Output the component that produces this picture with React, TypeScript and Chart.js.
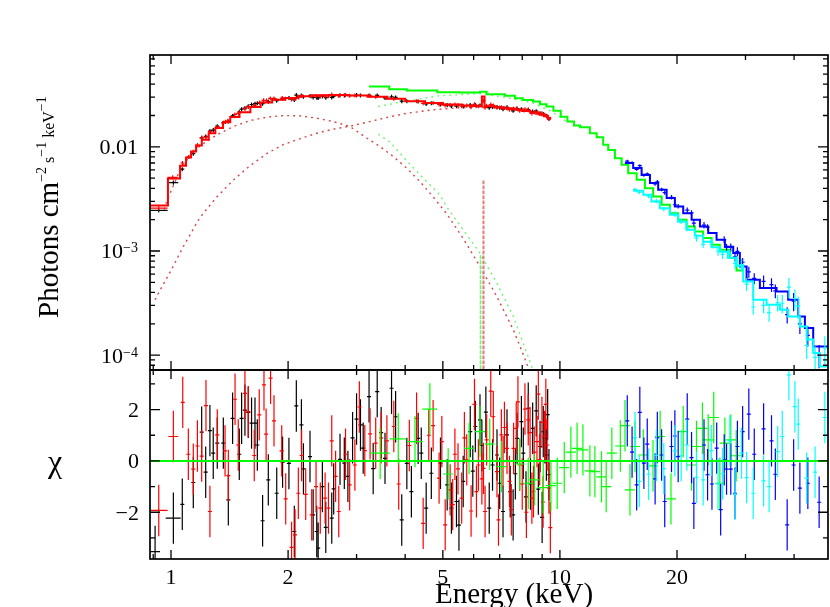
import React, { useEffect, useRef } from 'react';
import { Chart, registerables } from 'chart.js';

Chart.register(...registerables);

const FONT = '"Liberation Serif", "Times New Roman", serif';

// ---------- axes ----------
const X_MIN = 0.883;
const X_MAX = 48.9;
const TOP_Y_MIN = 7.2e-5;
const TOP_Y_MAX = 0.0762;
const RES_Y_MIN = -3.82;
const RES_Y_MAX = 3.54;

const xMajorTicks = [1, 2, 5, 10, 20];
const xTickLabels = ['1', '2', '5', '10', '20'];
const xMinorTicks = [0.9, 3, 4, 6, 7, 8, 9, 30, 40];
const topYMajorTicks = [1e-4, 1e-3, 1e-2];
const topYTickBase = ['10', '10', '0.01'];
const topYTickSup = ['−4', '−3', ''];
const topYMinorTicks = [8e-5, 9e-5, 2e-4, 3e-4, 4e-4, 5e-4, 6e-4, 7e-4, 8e-4, 9e-4, 2e-3, 3e-3, 4e-3, 5e-3, 6e-3, 7e-3, 8e-3, 9e-3, 2e-2, 3e-2, 4e-2, 5e-2, 6e-2, 7e-2];
const resYMajorTicks = [-2, 0, 2];
const resYTickLabels = ['−2', '0', '2'];
const resYMinorTicks = [-3, -1, 1, 3];

const xTitle = 'Energy (keV)';
const yTitleParts = ['Photons cm', '−2', ' s', '−1', ' keV', '−1'];
const resTitle = 'χ';

// ---------- models (bin edges, flux per bin) ----------
const redModelEdges = [0.883, 0.982, 1.055, 1.093, 1.126, 1.16, 1.2, 1.25, 1.3, 1.36, 1.42, 1.5, 1.6, 1.7, 1.82, 1.96, 2.12, 2.3, 2.55, 2.85, 3.2, 3.6, 4.0, 4.5, 5.0, 5.6, 6.0, 6.3, 6.4, 6.8, 7.2, 7.6, 8.0, 8.4, 8.8, 9.1, 9.3, 9.5];
const redModelFlux = [2.74e-3, 4.97e-3, 6.58e-3, 7.9e-3, 9.0e-3, 1.03e-2, 1.17e-2, 1.35e-2, 1.52e-2, 1.72e-2, 1.93e-2, 2.15e-2, 2.42e-2, 2.66e-2, 2.83e-2, 2.95e-2, 3.06e-2, 3.13e-2, 3.15e-2, 3.12e-2, 3.03e-2, 2.89e-2, 2.74e-2, 2.63e-2, 2.55e-2, 2.49e-2, 2.47e-2, 3.05e-2, 2.45e-2, 2.4e-2, 2.35e-2, 2.28e-2, 2.21e-2, 2.14e-2, 2.06e-2, 1.97e-2, 1.89e-2];

const greenModelEdges = [3.23, 3.64, 4.04, 4.84, 5.5, 6.23, 6.48, 7.22, 7.66, 8.03, 8.53, 8.89, 9.23, 9.62, 10.05, 10.45, 10.87, 11.27, 11.94, 12.43, 12.92, 13.31, 13.85, 14.41, 14.98, 15.75, 16.54, 17.37, 18.26, 19.18, 20.14, 21.17, 22.23, 23.35, 24.55, 25.78, 27.35, 28.46, 29.6];
const greenModelFlux = [0.0379, 0.0358, 0.0347, 0.0335, 0.0332, 0.0339, 0.032, 0.0309, 0.0293, 0.0282, 0.0272, 0.0257, 0.0244, 0.0222, 0.0195, 0.0175, 0.016, 0.01546, 0.01353, 0.01239, 0.01045, 0.00935, 0.00779, 0.00672, 0.00559, 0.00482, 0.00401, 0.00334, 0.00278, 0.00231, 0.00199, 0.00172, 0.00154, 0.00133, 0.00115, 0.00103, 0.000855, 0.00065];

const blueModelEdges = [14.69, 15.43, 16.22, 17.04, 17.89, 18.81, 19.75, 20.75, 21.81, 22.91, 24.06, 25.28, 26.56, 27.9, 29.02, 30.2, 32.67, 36.06, 38.63, 40.99, 42.65, 44.8, 48.9];
const blueModelFlux = [6.98e-3, 6.25e-3, 5.38e-3, 4.49e-3, 3.87e-3, 3.22e-3, 2.67e-3, 2.31e-3, 1.99e-3, 1.72e-3, 1.49e-3, 1.28e-3, 1.1e-3, 9.55e-4, 7.1e-4, 5.29e-4, 4.41e-4, 4.09e-4, 3.4e-4, 2.35e-4, 1.82e-4, 1.21e-4];

const cyanModelEdges = [15.43, 16.38, 17.18, 18.07, 19.18, 20.14, 21.17, 22.23, 23.35, 24.55, 25.78, 27.03, 28.46, 29.6, 31.4, 34.0, 36.8, 38.63, 41.4, 43.1, 44.8, 46.6, 48.9];
const cyanModelFlux = [3.78e-3, 3.46e-3, 2.99e-3, 2.58e-3, 2.23e-3, 1.91e-3, 1.6e-3, 1.4e-3, 1.23e-3, 1.085e-3, 9.82e-4, 8.61e-4, 7.21e-4, 5.1e-4, 3.4e-4, 3.05e-4, 2.73e-4, 2.35e-4, 1.88e-4, 1.41e-4, 1.05e-4, 7.8e-5];

// ---------- model components [E, flux] ----------
const redCoolComp = [[0.96, 2.5e-3], [0.975, 3.0e-3], [1.055, 6.0e-3], [1.12, 8.3e-3], [1.187, 1.02e-2], [1.311, 1.303e-2], [1.446, 1.566e-2], [1.597, 1.788e-2], [1.762, 1.928e-2], [1.944, 1.997e-2], [2.146, 1.984e-2], [2.369, 1.886e-2], [2.614, 1.748e-2], [2.886, 1.566e-2], [3.185, 1.216e-2], [3.445, 1.007e-2], [3.73, 8.07e-3], [4.036, 6.25e-3], [4.365, 4.65e-3], [4.72, 3.31e-3], [5.11, 2.29e-3], [5.64, 1.32e-3], [6.23, 7.1e-4], [6.88, 3.66e-4], [7.59, 1.75e-4], [8.21, 8.4e-5], [8.7, 4.5e-5]];
const redHotComp = [[0.91, 3.4e-4], [0.937, 4.2e-4], [1.0, 6.5e-4], [1.075, 1.1e-3], [1.187, 2.1e-3], [1.311, 3.3e-3], [1.446, 4.8e-3], [1.597, 6.6e-3], [1.77, 8.7e-3], [1.944, 1.05e-2], [2.15, 1.2e-2], [2.369, 1.35e-2], [2.614, 1.48e-2], [2.886, 1.58e-2], [3.185, 1.72e-2], [3.6, 1.92e-2], [4.036, 2.1e-2], [4.72, 2.27e-2], [5.5, 2.37e-2], [6.35, 2.4e-2], [7.3, 2.32e-2], [8.2, 2.16e-2], [9.0, 1.99e-2], [9.5, 1.87e-2]];
const greenCoolComp = [[3.41, 1.324e-2], [3.656, 1.116e-2], [4.036, 7.34e-3], [4.45, 5.01e-3], [4.915, 3.46e-3], [5.11, 2.67e-3], [5.64, 1.6e-3], [6.23, 9.55e-4], [6.88, 4.92e-4], [7.59, 2.35e-4], [8.46, 7.8e-5], [8.9, 4.0e-5]];
const greenHotComp = [[3.41, 2.44e-2], [4.036, 2.76e-2], [4.915, 3.1e-2], [6.23, 3.25e-2], [7.2, 3.0e-2], [8.5, 2.65e-2], [9.6, 2.15e-2], [10.5, 1.7e-2]];
const redLineComp = [[6.355, 1e-5], [6.36, 4.82e-3], [6.365, 1e-5]];
const greenLineComp = [[6.245, 1e-5], [6.25, 9.2e-4], [6.255, 1e-5]];

// ---------- spectra [E, flux] ----------
const blackSpec = [[0.93, 2.45e-3], [1.014, 4.54e-3], [1.069, 6.1e-3], [1.141, 8.6e-3], [1.199, 1.22e-2], [1.228, 1.26e-2], [1.259, 1.42e-2], [1.284, 1.45e-2], [1.315, 1.58e-2], [1.363, 1.7e-2], [1.404, 1.75e-2], [1.44, 1.98e-2], [1.498, 2.16e-2], [1.519, 2.3e-2], [1.549, 2.35e-2], [1.58, 2.45e-2], [1.611, 2.55e-2], [1.644, 2.6e-2], [1.667, 2.62e-2], [1.72, 2.6e-2], [1.779, 2.72e-2], [1.87, 2.78e-2], [1.936, 2.9e-2], [2.01, 2.95e-2], [2.075, 2.82e-2], [2.1, 3.14e-2], [2.164, 3.12e-2], [2.19, 3.03e-2], [2.277, 3.08e-2], [2.32, 2.98e-2], [2.37, 2.96e-2], [2.39, 2.95e-2], [2.45, 3.05e-2], [2.5, 2.97e-2], [2.59, 2.98e-2], [2.62, 3.06e-2], [2.72, 3.13e-2], [2.79, 3.12e-2], [3.0, 3.14e-2], [3.07, 3.12e-2], [3.23, 3.12e-2], [3.39, 3.12e-2], [3.55, 2.95e-2], [3.69, 3.02e-2], [3.78, 2.98e-2], [3.92, 2.75e-2], [4.04, 2.74e-2], [4.32, 2.73e-2], [4.53, 2.58e-2], [4.67, 2.62e-2], [4.93, 2.56e-2], [5.13, 2.52e-2], [5.26, 2.47e-2], [5.42, 2.46e-2], [5.64, 2.45e-2], [5.88, 2.52e-2], [6.06, 2.52e-2], [6.23, 2.5e-2], [6.58, 2.38e-2], [6.71, 2.42e-2], [6.89, 2.42e-2], [7.0, 2.38e-2], [7.14, 2.3e-2], [7.31, 2.4e-2], [7.58, 2.22e-2], [7.76, 2.33e-2], [7.96, 2.3e-2], [8.29, 2.28e-2], [8.51, 2.18e-2], [8.69, 2.2e-2], [8.89, 2.1e-2], [9.06, 2.07e-2], [9.23, 1.99e-2], [9.37, 1.86e-2]];
const blackSpecBinHalf = [0.05, 0.03];

const redSpec = [[0.93, 2.58e-3], [1.01, 5.1e-3], [1.07, 7.0e-3], [1.11, 8.0e-3], [1.14, 9.0e-3], [1.17, 1.04e-2], [1.2, 1.22e-2], [1.23, 1.24e-2], [1.26, 1.4e-2], [1.32, 1.55e-2], [1.38, 1.74e-2], [1.4, 1.78e-2], [1.46, 2.05e-2], [1.49, 2.1e-2], [1.55, 2.33e-2], [1.58, 2.42e-2], [1.64, 2.5e-2], [1.69, 2.66e-2], [1.73, 2.8e-2], [1.76, 2.78e-2], [1.8, 2.92e-2], [1.84, 2.92e-2], [1.93, 2.94e-2], [1.97, 2.9e-2], [2.04, 2.85e-2], [2.08, 2.88e-2], [2.13, 2.98e-2], [2.17, 3.08e-2], [2.3, 3.05e-2], [2.36, 3.08e-2], [2.42, 3.05e-2], [2.49, 3.08e-2], [2.54, 3.06e-2], [2.59, 3.18e-2], [2.7, 3.08e-2], [2.81, 3.14e-2], [2.88, 3.1e-2], [2.97, 3.11e-2], [3.25, 3.08e-2], [3.36, 3.04e-2], [3.59, 2.95e-2], [3.74, 2.9e-2], [4.28, 2.74e-2], [4.45, 2.62e-2], [4.72, 2.64e-2], [4.89, 2.56e-2], [4.97, 2.6e-2], [5.07, 2.5e-2], [5.22, 2.52e-2], [5.37, 2.55e-2], [5.47, 2.51e-2], [5.59, 2.46e-2], [5.76, 2.49e-2], [5.91, 2.42e-2], [6.03, 2.56e-2], [6.17, 2.46e-2], [6.36, 2.78e-2], [6.42, 2.38e-2], [6.48, 2.48e-2], [6.64, 2.55e-2], [6.74, 2.5e-2], [6.89, 2.38e-2], [7.07, 2.4e-2], [7.14, 2.35e-2], [7.31, 2.34e-2], [7.42, 2.28e-2], [7.6, 2.32e-2], [7.72, 2.33e-2], [7.88, 2.23e-2], [8.13, 2.3e-2], [8.29, 2.25e-2], [8.47, 2.1e-2], [8.59, 2.15e-2], [8.73, 2.14e-2], [8.87, 2.08e-2], [8.99, 2.1e-2], [9.13, 2.03e-2], [9.27, 1.98e-2], [9.37, 1.85e-2]];
const redSpecBinHalf = [0.05, 0.03];

const blueSpec = [[14.9, 7.3e-3], [15.33, 7.05e-3], [15.75, 6.08e-3], [16.05, 6.6e-3], [16.44, 5.36e-3], [16.77, 5.49e-3], [17.57, 4.4e-3], [17.8, 4.62e-3], [18.26, 3.9e-3], [18.6, 3.64e-3], [19.36, 3.28e-3], [19.75, 2.78e-3], [20.14, 2.69e-3], [21.25, 2.47e-3], [21.8, 2.32e-3], [22.1, 1.85e-3], [23.47, 1.77e-3], [23.97, 1.69e-3], [26.45, 1.28e-3], [26.82, 1.08e-3], [27.5, 1.08e-3], [28.19, 8.8e-4], [28.6, 9.9e-4], [29.5, 7.8e-4], [30.6, 6.3e-4], [31.6, 5.45e-4], [33.4, 5.1e-4], [35.0, 4.75e-4], [35.8, 4.15e-4], [38.4, 2.45e-4], [39.9, 3.3e-4], [41.4, 2.0e-4], [43.4, 1.55e-4], [46.4, 1.0e-4]];
const blueSpecRelErr = [0.03, 0.03, 0.03, 0.03, 0.035, 0.035, 0.04, 0.04, 0.04, 0.045, 0.05, 0.05, 0.05, 0.06, 0.06, 0.07, 0.07, 0.07, 0.08, 0.08, 0.09, 0.1, 0.1, 0.1, 0.12, 0.12, 0.14, 0.15, 0.15, 0.18, 0.2, 0.2, 0.22, 0.25];

const cyanSpec = [[15.6, 3.9e-3], [16.0, 3.66e-3], [16.9, 3.37e-3], [17.7, 3.02e-3], [18.5, 2.54e-3], [19.75, 2.27e-3], [20.5, 1.93e-3], [21.2, 1.66e-3], [22.45, 1.33e-3], [23.35, 1.16e-3], [24.5, 1.2e-3], [25.5, 1.0e-3], [26.2, 9.3e-4], [27.35, 9.3e-4], [28.2, 7.6e-4], [29.3, 7.4e-4], [30.2, 4.8e-4], [31.4, 2.9e-4], [33.4, 3.0e-4], [34.5, 2.55e-4], [36.3, 3.2e-4], [37.3, 3.15e-4], [38.8, 4.5e-4], [40.2, 3.5e-4], [41.0, 2.95e-4], [43.1, 1.24e-4], [45.3, 9.5e-5], [48.0, 1.17e-4]];
const cyanSpecRelErr = [0.04, 0.04, 0.045, 0.05, 0.05, 0.06, 0.06, 0.07, 0.08, 0.08, 0.09, 0.1, 0.1, 0.1, 0.12, 0.13, 0.14, 0.16, 0.16, 0.18, 0.18, 0.2, 0.22, 0.22, 0.24, 0.26, 0.28, 0.3];

// ---------- residuals [E, chi] ----------
const blackResid = [[0.91, -3.53], [1.014, -2.23], [1.069, -1.69], [1.141, -0.84], [1.199, 1.12], [1.228, -0.44], [1.259, 1.18], [1.284, 0.3], [1.315, 0.69], [1.363, 0.69], [1.404, -1.52], [1.44, 1.66], [1.498, 0.26], [1.519, 1.66], [1.549, 1.98], [1.58, 1.89], [1.611, 1.47], [1.644, 1.47], [1.667, 0.62], [1.72, -2.33], [1.779, -0.74], [1.87, -1.26], [1.936, -0.05], [2.01, -0.1], [2.075, -2.75], [2.1, 2.14], [2.164, 1.4], [2.19, -0.31], [2.277, 0.17], [2.32, -2.1], [2.37, -2.75], [2.39, -3.4], [2.45, -1.0], [2.5, -2.59], [2.59, -2.23], [2.62, -1.09], [2.72, 0.06], [2.79, -0.09], [2.85, -0.6], [2.93, 0.9], [3.0, 1.63], [3.07, 1.4], [3.12, 0.5], [3.23, 2.5], [3.31, -0.3], [3.39, 2.7], [3.47, 1.1], [3.55, 0.1], [3.69, 2.83], [3.78, 1.72], [3.92, -2.3], [4.04, -0.1], [4.15, -1.2], [4.32, 0.88], [4.4, 0.3], [4.53, -1.84], [4.67, -0.48], [4.93, -0.09], [5.13, -0.93], [5.26, -1.84], [5.42, -1.58], [5.5, -2.5], [5.64, -0.8], [5.88, 1.14], [5.97, -0.4], [6.06, 1.34], [6.23, 1.6], [6.3, 0.6], [6.45, 1.9], [6.58, -1.84], [6.71, -0.16], [6.89, 0.23], [7.0, -0.87], [7.14, -1.97], [7.31, 1.01], [7.45, -1.2], [7.58, -2.1], [7.68, -0.5], [7.76, 0.88], [7.96, 1.53], [8.05, 0.3], [8.18, -1.4], [8.29, 2.05], [8.4, -0.9], [8.51, 1.27], [8.69, 1.95], [8.8, -1.1], [8.89, 0.56], [9.0, -2.2], [9.06, 1.14], [9.15, 0.9], [9.23, 0.23], [9.3, 1.8], [9.37, -0.54]];
const blackResidBinHalf = [0.027, 0.045];

const redResid = [[0.93, -1.93], [1.014, 0.95], [1.072, 2.28], [1.108, 0.26], [1.141, -0.32], [1.169, 0.58], [1.199, 0.19], [1.23, 2.15], [1.259, -1.97], [1.315, 1.01], [1.377, 0.39], [1.404, -0.57], [1.461, 2.4], [1.489, 0.62], [1.549, 2.63], [1.58, 1.92], [1.637, 0.21], [1.686, 1.79], [1.734, 2.96], [1.756, 1.04], [1.803, 3.22], [1.84, 1.56], [1.926, 0.39], [1.972, -1.48], [2.042, -3.37], [2.084, -2.88], [2.125, -1.26], [2.167, 0.21], [2.22, -1.3], [2.3, -2.1], [2.36, -1.0], [2.42, -1.84], [2.49, -1.45], [2.54, -1.84], [2.59, 0.78], [2.65, -0.6], [2.7, -1.97], [2.81, 0.26], [2.88, -0.93], [2.97, -0.16], [3.05, 2.1], [3.15, 0.4], [3.25, 1.05], [3.36, 0.69], [3.47, 0.9], [3.59, 0.78], [3.74, 1.34], [3.85, -0.9], [4.1, 0.6], [4.28, 1.66], [4.45, -2.43], [4.6, 1.0], [4.72, 1.37], [4.89, -0.67], [4.97, 0.75], [5.07, -2.49], [5.22, -1.13], [5.3, -1.7], [5.37, 0.26], [5.47, -0.31], [5.59, -1.45], [5.68, 0.9], [5.76, 0.04], [5.91, -1.95], [6.03, 2.2], [6.1, -1.2], [6.17, -0.16], [6.3, -0.7], [6.36, -0.29], [6.42, -1.97], [6.48, 0.82], [6.64, 2.72], [6.74, 1.72], [6.89, -0.42], [6.95, -2.3], [7.07, 1.01], [7.14, -0.03], [7.2, 1.3], [7.31, 0.49], [7.42, -0.8], [7.5, -1.9], [7.6, 0.49], [7.72, 1.27], [7.8, 2.3], [7.88, -0.16], [8.0, -0.9], [8.13, 2.02], [8.2, -2.0], [8.29, 1.6], [8.38, 1.1], [8.47, -1.45], [8.55, -1.2], [8.59, 0.34], [8.73, 0.75], [8.8, 2.6], [8.87, 0.04], [8.99, 1.5], [9.05, -1.6], [9.13, 0.95], [9.2, 2.2], [9.27, 0.62], [9.37, -1.06], [9.45, -2.6]];
const redResidBinHalf = [0.05, 0.03];

const greenResid = [[3.45, 0.3], [3.84, 0.86], [4.24, 0.75], [4.63, 2.02], [5.16, -0.51], [5.84, 0.49], [6.23, 1.14], [6.6, 0.65], [7.08, -0.22], [7.88, -0.12], [8.29, -0.87], [8.6, -0.74], [9.06, -1.04], [9.48, -0.96], [9.84, -0.87], [10.26, -0.26], [10.67, 0.34], [11.07, 0.49], [11.46, 0.43], [11.94, -0.39], [12.3, -0.42], [12.79, -0.62], [13.15, -1.0], [13.6, 0.3], [14.3, 0.58], [14.7, 1.37], [15.14, -1.13], [15.6, 0.56], [16.38, 0.23], [17.35, -0.19], [18.1, 0.95], [19.3, -1.48], [20.75, 1.14], [21.8, -0.16], [22.45, 0.56], [23.25, 1.27], [24.06, 0.82], [24.86, 1.69], [25.78, -0.87], [26.56, 0.69], [27.5, 0.82], [28.4, 0.2]];
const greenResidBinHalf = [0.2, 0.19, 0.2, 0.2];

const blueResid = [[14.9, 1.56], [15.33, 0.34], [15.75, -0.93], [16.05, 1.89], [16.44, -0.09], [16.77, 0.65], [17.57, -0.7], [17.8, 0.91], [18.26, 0.23], [18.6, -1.58], [19.36, 0.56], [19.75, 0.97], [20.14, 0.17], [21.25, 1.63], [21.8, 0.13], [22.1, -1.65], [23.47, 0.62], [23.97, -0.54], [24.6, -0.9], [25.3, 0.5], [25.9, -1.9], [26.45, 0.04], [26.82, -0.32], [27.5, -0.32], [28.19, -1.26], [28.6, 0.56], [29.5, 1.14], [30.6, 1.82], [31.6, 0.26], [33.4, 1.25], [35.0, 0.78], [35.8, -0.52], [38.4, -2.49], [39.9, -0.16], [41.4, -1.06], [43.4, -0.87], [46.4, -1.61]];

const cyanResid = [[15.6, 0.9], [16.0, -0.8], [16.9, -0.52], [17.7, 0.21], [18.5, -0.3], [19.75, 0.39], [20.5, 0.2], [21.2, 0.62], [22.45, -0.64], [23.35, -0.74], [24.5, 0.4], [25.5, -0.9], [26.2, -0.5], [27.35, 0.78], [28.2, -1.3], [29.3, 0.3], [30.2, -0.65], [31.4, -1.26], [33.4, -0.78], [34.5, -1.0], [36.3, 0.36], [37.3, 0.95], [38.8, 3.35], [40.2, 2.11], [41.0, 1.43], [43.1, -0.67], [45.3, -0.44], [48.0, 1.69]];

const zeroLine = [[X_MIN, 0], [X_MAX, 0]];

// ---------- colours ----------
const BLACK = '#000000';
const RED = '#ff0000';
const GREEN = '#00ff00';
const BLUE = '#0000ff';
const CYAN = '#00ffff';

// ---------- helpers ----------
const P = (arr: number[][]) => arr.map(([x, y]) => ({ x, y }));
const steps = (edges: number[], vals: number[]) =>
  edges.map((x, i) => ({ x, y: vals[Math.min(i, vals.length - 1)] }));

function modelDs(edges: number[], vals: number[], color: string, order: number) {
  return { data: steps(edges, vals), borderColor: color, borderWidth: 2, stepped: 'before', pointRadius: 0, fill: false, order };
}
function curveDs(arr: number[][], color: string, order: number, dash: number[], width = 1.4) {
  return { data: P(arr), borderColor: color, borderWidth: width, borderDash: dash, pointRadius: 0, fill: false, order };
}
function errDs(arr: number[][], color: string, order: number, kind: string, relErr: any, xHalfFrac: number, xHalf: number[] = []) {
  return { data: P(arr), borderColor: color, showLine: false, pointRadius: 0, fill: false, order, errKind: kind, relErr, xHalfFrac, xHalf };
}

const errorBarPlugin = {
  id: 'errbars',
  afterDatasetDraw(chart: any, args: any) {
    const ds = chart.data.datasets[args.index];
    if (!ds.errKind) return;
    const { ctx, chartArea: a, scales } = chart;
    const xs = scales.x;
    const ys = scales.y;
    ctx.save();
    ctx.beginPath();
    ctx.rect(a.left, a.top, a.right - a.left, a.bottom - a.top);
    ctx.clip();
    ctx.strokeStyle = ds.borderColor;
    ctx.lineWidth = 1.2;
    ctx.beginPath();
    ds.data.forEach((p: any, i: number) => {
      const half = ds.xHalf[i] !== undefined ? ds.xHalf[i] : p.x * ds.xHalfFrac;
      const xc = xs.getPixelForValue(p.x);
      const x0 = xs.getPixelForValue(p.x - half);
      const x1 = xs.getPixelForValue(p.x + half);
      const yc = ys.getPixelForValue(p.y);
      let y0: number;
      let y1: number;
      if (ds.errKind === 'chi') {
        y0 = ys.getPixelForValue(p.y - 1);
        y1 = ys.getPixelForValue(p.y + 1);
      } else {
        const r = Array.isArray(ds.relErr) ? ds.relErr[i] : ds.relErr;
        y0 = ys.getPixelForValue(p.y * (1 - r));
        y1 = ys.getPixelForValue(p.y * (1 + r));
      }
      ctx.moveTo(x0, yc);
      ctx.lineTo(x1, yc);
      ctx.moveTo(xc, y0);
      ctx.lineTo(xc, y1);
    });
    ctx.stroke();
    ctx.restore();
  },
};

function framePlugin(panel: 'top' | 'res') {
  return {
    id: 'frame_' + panel,
    afterDraw(chart: any) {
      const { ctx, chartArea: a, scales } = chart;
      const xs = scales.x;
      const ys = scales.y;
      ctx.save();
      ctx.strokeStyle = '#000';
      ctx.lineWidth = 1.3;
      ctx.beginPath();
      const xt: [number[], number][] = [[xMajorTicks, 9], [xMinorTicks, 5]];
      xt.forEach(([list, len]) => {
        list.forEach((v) => {
          const px = xs.getPixelForValue(v);
          ctx.moveTo(px, a.top);
          ctx.lineTo(px, a.top + len);
          ctx.moveTo(px, a.bottom);
          ctx.lineTo(px, a.bottom - len);
        });
      });
      const yt: [number[], number][] = panel === 'top'
        ? [[topYMajorTicks, 10], [topYMinorTicks, 5]]
        : [[resYMajorTicks, 10], [resYMinorTicks, 5]];
      yt.forEach(([list, len]) => {
        list.forEach((v) => {
          const py = ys.getPixelForValue(v);
          ctx.moveTo(a.left, py);
          ctx.lineTo(a.left + len, py);
          ctx.moveTo(a.right, py);
          ctx.lineTo(a.right - len, py);
        });
      });
      ctx.stroke();
      ctx.lineWidth = 1.7;
      ctx.strokeRect(a.left, a.top, a.right - a.left, a.bottom - a.top);

      ctx.fillStyle = '#000';
      ctx.textBaseline = 'alphabetic';
      const labelRight = a.left - 12;
      if (panel === 'top') {
        topYMajorTicks.forEach((v, i) => {
          const py = ys.getPixelForValue(v);
          const base = topYTickBase[i];
          const sup = topYTickSup[i];
          ctx.font = `14px ${FONT}`;
          const supW = sup ? ctx.measureText(sup).width : 0;
          ctx.font = `22px ${FONT}`;
          const baseW = ctx.measureText(base).width;
          const x0 = labelRight - supW - baseW;
          ctx.textAlign = 'left';
          ctx.fillText(base, x0, py + 7.5);
          if (sup) {
            ctx.font = `14px ${FONT}`;
            ctx.fillText(sup, x0 + baseW, py + 1.5);
          }
        });
        // y title
        ctx.save();
        ctx.translate(58, 318);
        ctx.rotate(-Math.PI / 2);
        ctx.textAlign = 'left';
        const sizes = [29, 14, 16, 14, 16, 14];
        const rises = [0, 12, 4, 12, 4, 12];
        let x = 0;
        yTitleParts.forEach((t, i) => {
          ctx.font = `${sizes[i]}px ${FONT}`;
          ctx.fillText(t, x, -rises[i]);
          x += ctx.measureText(t).width;
        });
        ctx.restore();
      } else {
        ctx.font = `22px ${FONT}`;
        ctx.textAlign = 'right';
        resYMajorTicks.forEach((v, i) => {
          const py = ys.getPixelForValue(v);
          ctx.fillText(resYTickLabels[i], labelRight + 1, py + 7.5);
        });
        ctx.textAlign = 'center';
        xMajorTicks.forEach((v, i) => {
          const px = xs.getPixelForValue(v);
          ctx.fillText(xTickLabels[i], px, a.bottom + 25);
        });
        ctx.font = `29px ${FONT}`;
        ctx.fillText(xTitle, 514, a.bottom + 44);
        ctx.font = `32px ${FONT}`;
        ctx.fillText(resTitle, 55, (a.top + a.bottom) / 2 + 7);
      }
      ctx.restore();
    },
  };
}

function baseOptions(yType: string, yMin: number, yMax: number, padding: any) {
  return {
    responsive: false,
    animation: false,
    devicePixelRatio: 1,
    events: [],
    layout: { padding },
    plugins: { legend: { display: false }, tooltip: { enabled: false }, title: { display: false } },
    scales: {
      x: { type: 'logarithmic', min: X_MIN, max: X_MAX, display: false, bounds: 'data' },
      y: { type: yType, min: yMin, max: yMax, display: false, bounds: 'data' },
    },
    elements: { point: { radius: 0 }, line: { tension: 0 } },
  };
}

function topConfig(): any {
  return {
    type: 'line',
    data: {
      datasets: [
        curveDs(redCoolComp, 'rgba(200,40,40,0.85)', 105, [2, 4]),
        curveDs(redHotComp, 'rgba(200,40,40,0.85)', 104, [2, 4]),
        curveDs(greenCoolComp, 'rgba(110,240,110,0.95)', 103, [2, 4]),
        curveDs(greenHotComp, 'rgba(110,240,110,0.95)', 102, [2, 4]),
        curveDs(redLineComp, 'rgba(225,110,110,0.9)', 101, [3, 2], 2),
        curveDs(greenLineComp, 'rgba(110,240,110,0.95)', 100, [3, 2], 1.6),
        errDs(blackSpec, BLACK, 90, 'rel', 0.045, 0.012, blackSpecBinHalf),
        errDs(redSpec, RED, 80, 'rel', 0.045, 0.012, redSpecBinHalf),
        modelDs(redModelEdges, redModelFlux, RED, 70),
        modelDs(greenModelEdges, greenModelFlux, GREEN, 60),
        errDs(blueSpec, BLUE, 55, 'rel', blueSpecRelErr, 0.012),
        modelDs(blueModelEdges, blueModelFlux, BLUE, 50),
        errDs(cyanSpec, CYAN, 45, 'rel', cyanSpecRelErr, 0.012),
        modelDs(cyanModelEdges, cyanModelFlux, CYAN, 40),
      ],
    },
    options: baseOptions('logarithmic', TOP_Y_MIN, TOP_Y_MAX, { left: 150, right: 2, top: 55, bottom: 237 }),
    plugins: [errorBarPlugin, framePlugin('top')],
  };
}

function resConfig(): any {
  return {
    type: 'line',
    data: {
      datasets: [
        errDs(blackResid, BLACK, 90, 'chi', 0, 0.012, blackResidBinHalf),
        errDs(redResid, RED, 80, 'chi', 0, 0.012, redResidBinHalf),
        errDs(greenResid, GREEN, 70, 'chi', 0, 0.03, greenResidBinHalf),
        errDs(blueResid, BLUE, 60, 'chi', 0, 0.012),
        errDs(cyanResid, CYAN, 50, 'chi', 0, 0.012),
        { data: P(zeroLine), borderColor: GREEN, borderWidth: 2, pointRadius: 0, fill: false, order: 10 },
      ],
    },
    options: baseOptions('linear', RES_Y_MIN, RES_Y_MAX, { left: 150, right: 2, top: 370, bottom: 48 }),
    plugins: [errorBarPlugin, framePlugin('res')],
  };
}

export default function App() {
  const topRef = useRef<HTMLCanvasElement>(null);
  const resRef = useRef<HTMLCanvasElement>(null);
  useEffect(() => {
    const top = new Chart(topRef.current as HTMLCanvasElement, topConfig());
    const res = new Chart(resRef.current as HTMLCanvasElement, resConfig());
    return () => {
      top.destroy();
      res.destroy();
    };
  }, []);
  return (
    <div style={{ position: 'absolute', left: 0, top: 0, width: 830, height: 607, background: '#fff', overflow: 'hidden' }}>
      <canvas ref={topRef} width={830} height={607} style={{ position: 'absolute', left: 0, top: 0, width: 830, height: 607 }} />
      <canvas ref={resRef} width={830} height={607} style={{ position: 'absolute', left: 0, top: 0, width: 830, height: 607 }} />
    </div>
  );
}
